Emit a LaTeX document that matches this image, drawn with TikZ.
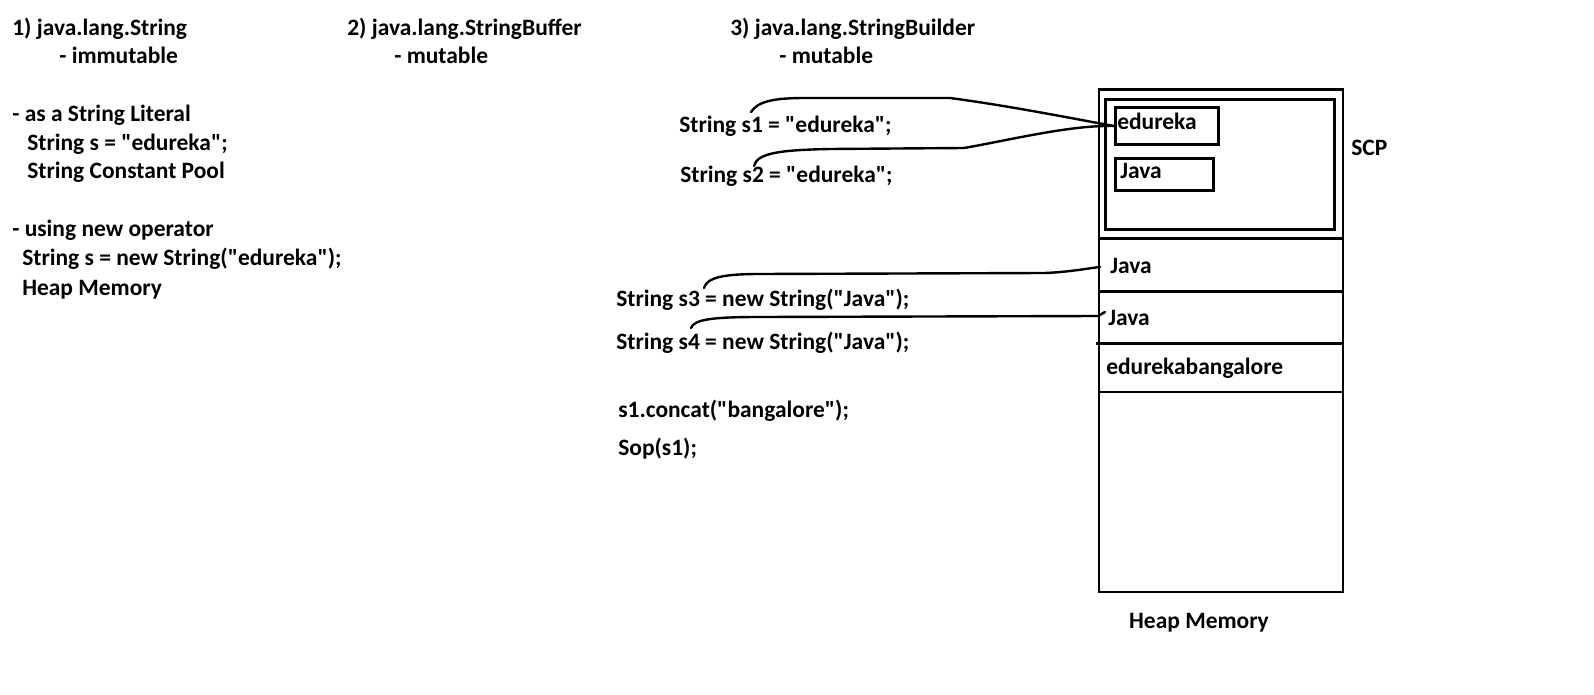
\documentclass[tikz,border=0pt]{standalone}
\usepackage{fontspec}
\setmainfont{Carlito}[Ligatures=TeXOff]
\begin{document}
\begin{tikzpicture}[x=0.75pt,y=-0.75pt,
  txt/.style={anchor=base west, inner sep=0pt, font=\fontsize{17.6}{21}\selectfont\bfseries},
  boxline/.style={line width=2.2pt},
  link/.style={line width=1.8pt, line cap=round, line join=round}]
\useasboundingbox[fill=white] (0,0) rectangle (1594,695);

% left column
\node[txt] (t1)  at (12,36)  {1) java.lang.String};
\node[txt] (t1m) at (59,64)  {- immutable};
\node[txt] (t2)  at (347,36) {2) java.lang.StringBuffer};
\node[txt] (t2m) at (394,64) {- mutable};
\node[txt] (t3)  at (730,36) {3) java.lang.StringBuilder};
\node[txt] (t3m) at (779,64) {- mutable};

\node[txt] (lit)  at (12,122) {- as a String Literal};
\node[txt] (lit1) at (27,151) {String s = "edureka";};
\node[txt] (lit2) at (27,179) {String Constant Pool};
\node[txt] (nw)   at (12,237) {- using new operator};
\node[txt] (nw1)  at (22,266) {String s = new String("edureka");};
\node[txt] (nw2)  at (22,295) {Heap Memory};

% code lines
\node[txt] (s1) at (679,133) {String s1 = "edureka";};
\node[txt] (s2) at (680,183) {String s2 = "edureka";};
\node[txt] (s3) at (616,306) {String s3 = new String("Java");};
\node[txt] (s4) at (616,349) {String s4 = new String("Java");};
\node[txt] (cc) at (618,417) {s1.concat("bangalore");};
\node[txt] (sop) at (618,455) {Sop(s1);};

% heap memory box
\draw[boxline] (1099,89.5) rectangle (1343,592);
\draw[boxline] (1105.3,99.3) rectangle (1334.7,229.3);
\node[boxline, draw, inner sep=0pt, anchor=north west, minimum width=77.25pt, minimum height=27.3pt] (edbox) at (1113.7,106.3) {};
\node[boxline, draw, inner sep=0pt, anchor=north west, minimum width=73.95pt, minimum height=24pt] (javabox) at (1113.7,157) {};
\node[txt] (edtxt) at (1117,130) {edureka};
\node[txt] (jtxt) at (1120,179) {Java};
\draw[boxline] (1099,238.7) -- (1343,238.7);
\draw[boxline] (1099,291.8) -- (1343,291.8);
\draw[boxline] (1096,343.3) -- (1343,343.3);
\draw[boxline] (1099,392) -- (1343,392);
\node[txt] (hj1) at (1110,273) {Java};
\node[txt] (hj2) at (1108,325) {Java};
\node[txt] (heb) at (1106,374) {edurekabangalore};
\node[txt] (scp) at (1351,156) {SCP};
\node[txt, anchor=base] (hm) at (1199,628) {Heap Memory};

% connectors
\coordinate (c1) at (751,112);
\coordinate (c2) at (754,166);
\coordinate (c3) at (704,288);
\coordinate (c4) at (691,328);
\coordinate (e3) at (1100,267);
\coordinate (e4) at (1105,312);
\draw[link] (c1) .. controls (758,101) and (775,98) .. (805,98) -- (950,98)
  .. controls (1010,106) and (1070,118) .. (edbox.west);
\draw[link] (c2) .. controls (757,153) and (780,150) .. (830,149) -- (964,148)
  .. controls (1010,140) and (1070,125) .. (edbox.west);
\draw[link] (c3) .. controls (707,277) and (725,274) .. (760,274) -- (1045,273)
  .. controls (1070,272) and (1090,268) .. (e3);
\draw[link] (c4) .. controls (694,319) and (715,317) .. (760,317) -- (1098,316) -- (e4);
\end{tikzpicture}
\end{document}
